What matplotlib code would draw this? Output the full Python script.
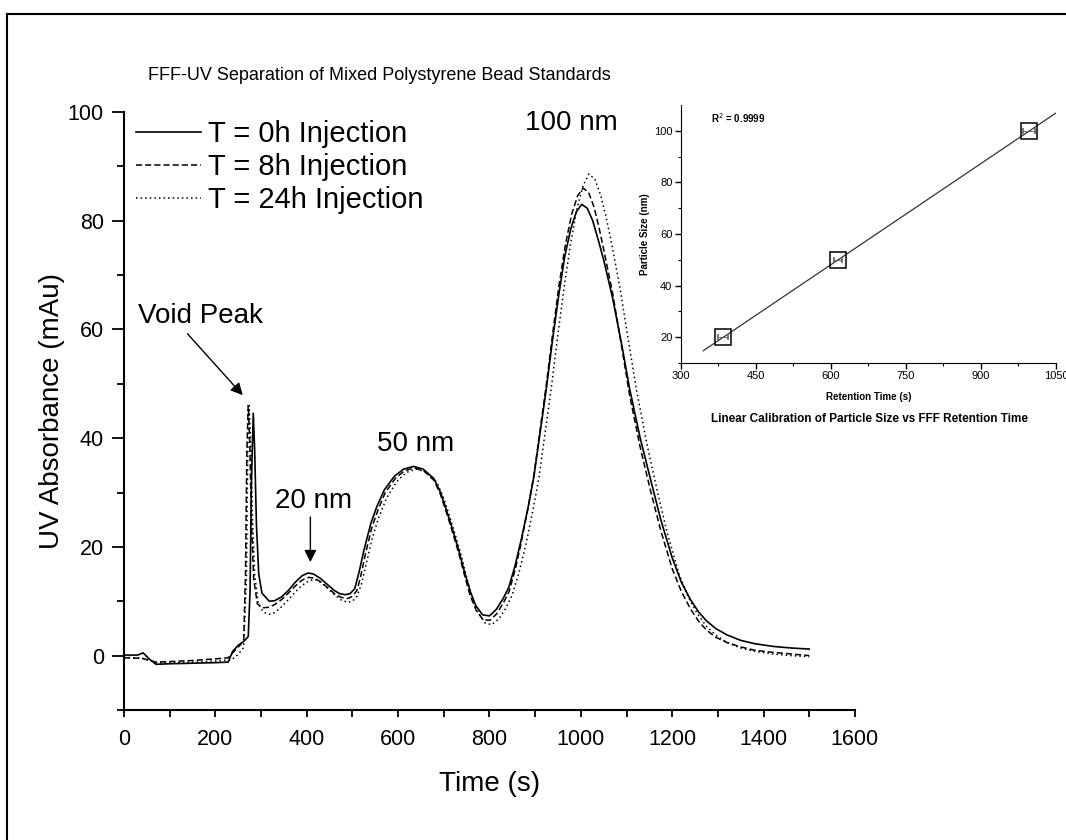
import numpy as np
import matplotlib
matplotlib.use("Agg")
import matplotlib.pyplot as plt
from matplotlib.lines import Line2D

plt.rcParams['font.family'] = ['Liberation Sans', 'DejaVu Sans']

# === FFF-UV traces (time in s, absorbance in mAu) ===
t_0h = [0, 30, 42, 55, 70, 100, 150, 200, 228, 238, 250, 262, 272, 276, 279, 283, 286, 290,
        295, 302, 318, 330, 345, 360, 375, 390, 403, 415, 430, 445, 460, 472, 484, 495, 505,
        515, 525, 540, 553, 570, 592, 612, 634, 655, 678, 692, 705, 720, 733, 745, 758, 770,
        785, 800, 815, 830, 842, 856, 870, 884, 897, 910, 924, 938, 952, 965, 978, 990, 1002,
        1014, 1026, 1038, 1050, 1069, 1090, 1107, 1130, 1153, 1175, 1200, 1220, 1240, 1258,
        1275, 1295, 1320, 1350, 1380, 1420, 1460, 1500]
uv_0h = [0.1, 0.1, 0.5, -0.6, -1.6, -1.5, -1.4, -1.3, -1.2, 0.8, 1.9, 2.6, 3.5, 12, 32, 44.6,
         38, 24, 15, 11.5, 10.0, 10.1, 10.8, 12.0, 13.5, 14.7, 15.2, 15.0, 14.2, 13.1, 12.0,
         11.4, 11.2, 11.4, 12.3, 15.5, 19.3, 24.2, 27.3, 30.5, 33.0, 34.3, 34.8, 34.3, 32.6,
         30.2, 27.0, 23.0, 19.3, 15.5, 11.8, 9.2, 7.5, 7.3, 8.5, 10.5, 12.5, 16.5, 21.5, 27,
         32.8, 40.5, 48.8, 58, 66.5, 73.5, 78.5, 81.6, 83.0, 82.3, 80, 76.5, 72.8, 66, 57, 49,
         40, 32.3, 25.0, 18.0, 13.5, 10.3, 8.0, 6.4, 5.0, 3.8, 2.8, 2.2, 1.7, 1.4, 1.2]

t_8h = [0, 40, 70, 100, 150, 200, 228, 240, 255, 262, 266, 269, 272, 275, 279, 284, 292, 305,
        318, 330, 345, 360, 375, 390, 405, 418, 432, 447, 462, 476, 490, 500, 510, 518, 528,
        542, 556, 572, 594, 614, 635, 656, 679, 693, 706, 721, 734, 746, 758, 771, 786, 801,
        816, 831, 843, 857, 870, 884, 897, 910, 924, 938, 952, 966, 980, 993, 1005, 1017,
        1029, 1041, 1053, 1070, 1090, 1107, 1130, 1153, 1175, 1200, 1220, 1240, 1258, 1275,
        1295, 1320, 1350, 1380, 1420, 1460, 1500]
uv_8h = [-0.4, -0.5, -1.2, -1.1, -0.9, -0.6, -0.4, 0.7, 2.0, 3.0, 15, 38, 46, 40, 25, 14, 9.5,
         8.8, 8.9, 9.4, 10.3, 11.5, 12.8, 13.9, 14.4, 14.2, 13.5, 12.4, 11.3, 10.7, 10.5, 10.9,
         12.0, 14.5, 18.5, 23.4, 26.8, 30, 32.6, 34.0, 34.5, 34.0, 32.2, 29.6, 26.3, 22.2,
         18.5, 14.6, 11.0, 8.3, 6.6, 6.5, 7.7, 9.8, 11.8, 16, 21, 27, 33, 41, 49.5, 59, 68,
         75.5, 81.2, 84.6, 86.0, 85.2, 82.5, 78.3, 73.5, 66.5, 56.5, 47.8, 38.3, 30.2, 23.0,
         16.0, 11.8, 8.6, 6.3, 4.7, 3.4, 2.4, 1.6, 1.0, 0.6, 0.3, 0.0]

t_24h = [0, 40, 70, 100, 150, 200, 235, 250, 262, 268, 271, 274, 277, 281, 286, 294, 305, 318,
         330, 345, 360, 375, 390, 405, 418, 432, 447, 462, 476, 490, 500, 510, 520, 530, 544,
         558, 575, 597, 618, 640, 661, 684, 698, 711, 726, 739, 750, 762, 775, 790, 805, 820,
         835, 850, 865, 880, 894, 908, 921, 935, 949, 963, 977, 991, 1005, 1018, 1031, 1043,
         1055, 1067, 1086, 1105, 1122, 1145, 1168, 1190, 1215, 1235, 1255, 1275, 1295, 1320,
         1350, 1380, 1420, 1460, 1500]
uv_24h = [-0.3, -0.5, -1.3, -1.3, -1.2, -1.0, -0.8, 0.2, 1.5, 14, 38, 46, 40, 26, 15, 9.5, 8.0,
          7.6, 7.9, 9.0, 10.3, 11.7, 12.9, 13.8, 14.0, 13.4, 12.3, 11.1, 10.2, 9.8, 10.0, 10.9,
          13.2, 16.8, 21.8, 25.5, 29, 32.0, 33.7, 34.3, 33.8, 32.0, 29.4, 26.1, 22.0, 18.2,
          14.4, 10.7, 8.0, 6.0, 5.7, 6.7, 8.6, 11.2, 15.4, 20.5, 26.3, 32.5, 40.5, 49, 58.5,
          67.5, 75.5, 82, 86.5, 88.6, 87.6, 84.8, 80.8, 76, 67.5, 57.5, 48.8, 38.8, 30.0, 22.3,
          15.0, 10.8, 7.7, 5.4, 3.8, 2.4, 1.4, 0.8, 0.3, 0.0, -0.2]

# === calibration inset ===
ret_time = [385, 615, 997]
size_nm = [20, 50, 100]
ret_err = [10, 8, 12]

fig = plt.figure(figsize=(10.66, 8.4), dpi=100)

ax = fig.add_axes([0.1163, 0.1548, 0.6857, 0.7119])
ax.plot(t_0h, uv_0h, color='black', lw=1.2, label='T = 0h Injection')
ax.plot(t_8h, uv_8h, color='black', lw=1.1, linestyle=(0, (4, 2)), label='T = 8h Injection')
ax.plot(t_24h, uv_24h, color='black', lw=1.1, linestyle=(0, (1, 2)), label='T = 24h Injection')

ax.set_xlim(0, 1600)
ax.set_ylim(-10, 100)
ax.set_xticks(np.arange(0, 1601, 200))
ax.set_xticks(np.arange(100, 1600, 200), minor=True)
ax.set_yticks(np.arange(0, 101, 20))
ax.set_yticks(np.arange(-10, 100, 20), minor=True)
for s in ['top', 'right']:
    ax.spines[s].set_visible(False)
for s in ['left', 'bottom']:
    ax.spines[s].set_linewidth(1.5)
ax.tick_params(axis='x', which='both', length=5, width=1.3, labelsize=15.5, pad=8.5)
ax.tick_params(axis='y', which='major', length=8.5, width=1.3, labelsize=15.5, pad=6)
ax.tick_params(axis='y', which='minor', length=5, width=1.3)
ax.set_xlabel('Time (s)', fontsize=20, labelpad=15)
ax.set_ylabel('UV Absorbance (mAu)', fontsize=20, labelpad=2)

ax.legend(loc='upper left', bbox_to_anchor=(-0.011, 1.02), frameon=False, fontsize=21,
          handlelength=2.2, handletextpad=0.27, labelspacing=0.17, borderaxespad=0.3)

# peak annotations
arrow = dict(arrowstyle='-|>', color='black', lw=1, mutation_scale=18, shrinkA=0, shrinkB=0)
ax.text(168, 62.4, 'Void Peak', fontsize=20, ha='center', va='center')
ax.annotate('', xy=(260, 47.9), xytext=(139, 59.2), arrowprops=arrow)
ax.text(415, 28.4, '20 nm', fontsize=20, ha='center', va='center')
ax.annotate('', xy=(408, 17.2), xytext=(408, 25.5), arrowprops=arrow)
ax.text(639, 39.0, '50 nm', fontsize=20, ha='center', va='center')
ax.text(980, 98.0, '100 nm', fontsize=20, ha='center', va='center')

fig.text(0.139, 0.91, 'FFF-UV Separation of Mixed Polystyrene Bead Standards',
         fontsize=13, ha='left', va='center')

# === inset: linear calibration ===
ins = fig.add_axes([0.6386, 0.5679, 0.352, 0.3071])
slope, icpt = np.polyfit(ret_time, size_nm, 1)
fit_x = np.array([345, 1050])
ins.plot(fit_x, slope * fit_x + icpt, color='#333333', lw=0.9)
ins.errorbar(ret_time, size_nm, xerr=ret_err, fmt='s', ms=11, mfc='none', mec='black',
             mew=1.1, ecolor='#555555', elinewidth=0.6, capsize=2)
ins.set_xlim(300, 1050)
ins.set_ylim(10, 110)
ins.set_xticks(np.arange(300, 1051, 150))
ins.set_xticks(np.arange(375, 1050, 150), minor=True)
ins.set_yticks(np.arange(20, 101, 20))
ins.set_yticks(np.arange(10, 110, 20), minor=True)
for s in ['top', 'right']:
    ins.spines[s].set_visible(False)
ins.tick_params(which='major', length=4, width=1, labelsize=8, direction='out', pad=2)
ins.tick_params(which='minor', length=2, width=0.8, direction='out')
ins.set_xlabel('Retention Time (s)', fontsize=7, fontweight='bold', labelpad=8)
ins.set_ylabel('Particle Size (nm)', fontsize=7, fontweight='bold', labelpad=3)
ins.text(0.08, 0.95, r'R$^2$ = 0.9999', transform=ins.transAxes, fontsize=7,
         fontweight='bold', ha='left', va='center')
fig.text(0.816, 0.501, 'Linear Calibration of Particle Size vs FFF Retention Time',
         fontsize=8.5, fontweight='bold', ha='center', va='center')

# page frame
fx = 7 / 1066
fy = 1 - 14 / 840
fig.add_artist(Line2D([fx, fx], [0, fy], transform=fig.transFigure, color='black', lw=1.5))
fig.add_artist(Line2D([fx, 1], [fy, fy], transform=fig.transFigure, color='black', lw=1.5))

fig.savefig('out.png', dpi=100)
